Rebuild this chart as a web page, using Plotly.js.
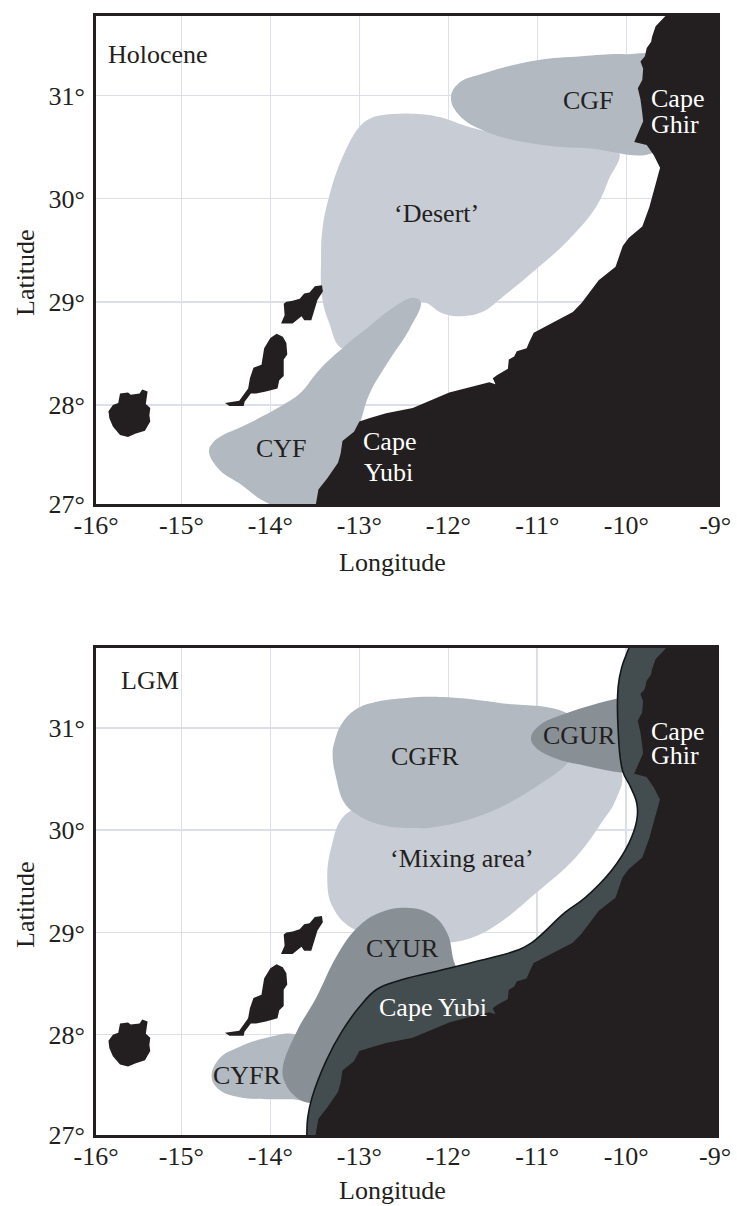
<!DOCTYPE html>
<html><head><meta charset="utf-8">
<script src="https://cdn.plot.ly/plotly-3.0.1.min.js"></script>
<style>html,body{margin:0;padding:0;background:#fff}</style></head>
<body><div id="chart" style="width:737px;height:1206px"></div>
<script>
// Longitude / latitude outlines
const coastLon=[-9.53,-9.56,-9.67,-9.71,-9.72,-9.77,-9.79,-9.84,-9.81,-9.82,-9.87,-9.84,-9.82,-9.81,-9.86,-9.91,-9.77,-9.69,-9.62,-9.68,-9.74,-9.82,-9.97,-10.04,-10.08,-10.12,-10.31,-10.46,-10.50,-10.60,-10.80,-11.04,-11.09,-11.12,-11.23,-11.26,-11.32,-11.33,-11.45,-11.50,-11.47,-11.54,-11.77,-11.99,-12.40,-12.70,-12.89,-13.00,-13.06,-13.19,-13.21,-13.24,-13.36,-13.46,-13.49,-13.50,-8.90,-8.90];
const coastLat=[31.90,31.77,31.67,31.57,31.52,31.46,31.38,31.33,31.26,31.15,31.07,30.96,30.83,30.75,30.65,30.55,30.52,30.42,30.30,30.12,29.92,29.73,29.62,29.54,29.44,29.34,29.21,29.04,28.99,28.90,28.81,28.70,28.61,28.55,28.52,28.47,28.44,28.35,28.29,28.26,28.20,28.22,28.17,28.12,27.97,27.92,27.87,27.84,27.74,27.65,27.53,27.44,27.29,27.18,27.03,26.90,26.90,31.90];
const granCanariaLon=[-15.69,-15.60,-15.57,-15.47,-15.44,-15.38,-15.40,-15.35,-15.36,-15.35,-15.41,-15.52,-15.60,-15.69,-15.77,-15.81,-15.82,-15.77,-15.71];
const granCanariaLat=[28.11,28.12,28.10,28.11,28.15,28.13,28.01,27.97,27.90,27.84,27.75,27.72,27.69,27.71,27.79,27.87,27.94,28.00,28.02];
const fuerteventuraLon=[-13.93,-13.86,-13.82,-13.81,-13.85,-13.85,-13.90,-13.92,-14.05,-14.16,-14.22,-14.29,-14.30,-14.46,-14.51,-14.42,-14.35,-14.25,-14.23,-14.19,-14.10,-14.07,-14.00];
const fuerteventuraLat=[28.69,28.66,28.60,28.49,28.44,28.28,28.24,28.16,28.13,28.11,28.11,28.03,27.99,27.99,28.02,28.03,28.04,28.16,28.26,28.36,28.39,28.55,28.65];
const lanzaroteLon=[-13.42,-13.41,-13.47,-13.50,-13.54,-13.62,-13.65,-13.75,-13.88,-13.84,-13.85,-13.82,-13.75,-13.67,-13.62,-13.56,-13.50];
const lanzaroteLat=[29.16,29.10,29.02,28.94,28.82,28.82,28.86,28.79,28.79,28.87,28.98,29.00,29.01,29.03,29.08,29.09,29.15];

const desertLon=[-12.63,-12.33,-12.10,-11.66,-10.09,-10.20,-10.34,-10.65,-11.02,-11.40,-11.62,-11.85,-12.07,-12.31,-12.78,-13.19,-13.34,-13.42,-13.43,-13.415,-13.34,-13.19,-13.00,-12.87,-12.63];
const desertLat=[30.82,30.82,30.79,30.67,30.47,30.18,29.92,29.60,29.31,29.04,28.90,28.86,28.89,29.00,28.73,28.55,28.80,29.05,29.41,29.70,30.02,30.40,30.695,30.78,30.82];
const cgfLon=[-11.97,-11.88,-11.58,-11.02,-10.50,-10.01,-9.64,-9.64,-10.46,-11.02,-11.58,-11.88,-11.97];
const cgfLat=[30.98,31.12,31.22,31.34,31.38,31.40,31.36,30.48,30.49,30.53,30.65,30.81,30.98];
const cyfLon=[-14.69,-14.64,-14.57,-14.27,-13.86,-13.67,-13.45,-13.15,-12.89,-12.66,-12.40,-12.31,-12.44,-12.66,-12.89,-12.98,-13.20,-13.40,-14.01,-14.35,-14.57,-14.69];
const cyfLat=[27.55,27.64,27.69,27.81,28.00,28.11,28.34,28.58,28.76,28.92,29.04,29.00,28.73,28.44,28.10,27.86,27.30,26.90,27.04,27.24,27.37,27.55];

const shelfLon=[-9.50,-9.93,-9.97,-10.05,-10.09,-10.09,-10.04,-9.95,-9.88,-9.88,-9.97,-10.16,-10.46,-10.68,-11.06,-11.21,-11.62,-12.18,-12.55,-12.81,-13.00,-13.19,-13.37,-13.53,-13.58,-13.59,-13.59,-9.50,-9.50];
const shelfLat=[31.90,31.90,31.78,31.59,31.40,30.98,30.58,30.42,30.26,30.10,29.87,29.61,29.34,29.20,28.90,28.83,28.73,28.61,28.53,28.44,28.27,28.04,27.75,27.39,27.19,27.01,26.90,26.90,31.90];
const mixingLon=[-10.05,-10.12,-10.28,-10.57,-11.02,-11.43,-11.73,-12.01,-12.55,-13.08,-13.30,-13.36,-13.31,-13.17,-12.89,-11.43,-10.31,-10.05];
const mixingLat=[30.56,30.29,30.07,29.73,29.38,29.09,28.95,28.90,28.92,29.04,29.25,29.51,29.85,30.14,30.24,30.58,30.83,30.56];
const cgfrLon=[-12.83,-12.50,-12.05,-11.40,-10.68,-10.42,-10.65,-11.02,-11.58,-12.14,-12.38,-12.75,-13.02,-13.17,-13.26,-13.30,-13.28,-13.19,-13.02,-12.83];
const cgfrLat=[31.25,31.29,31.30,31.24,31.15,30.93,30.66,30.42,30.16,30.03,30.02,30.05,30.15,30.27,30.51,30.73,30.86,31.05,31.19,31.25];
const cgurLon=[-11.07,-10.98,-10.68,-10.09,-9.86,-9.86,-10.03,-10.46,-10.79,-11.02,-11.07];
const cgurLat=[30.90,31.02,31.14,31.29,31.32,30.56,30.56,30.63,30.70,30.81,30.90];
const cyurLon=[-12.47,-12.18,-12.01,-11.92,-11.76,-13.11,-13.53,-13.71,-13.84,-13.86,-13.71,-13.48,-13.26,-13.03,-12.78,-12.47];
const cyurLat=[29.24,29.17,28.99,28.68,28.48,27.36,27.33,27.39,27.54,27.68,28.02,28.37,28.76,29.04,29.19,29.24];
const cyfrLon=[-14.66,-14.57,-14.35,-14.04,-13.71,-13.34,-13.60,-13.75,-14.04,-14.35,-14.57,-14.66];
const cyfrLat=[27.585,27.77,27.88,27.97,28.00,27.75,27.37,27.37,27.37,27.39,27.46,27.585];

// Ticks sit on the frame edge at the low ends, as they do in the picture
const lonTicks=[-15.96,-15,-14,-13,-12,-11,-10,-9];
const lonLabels=["-16°","-15°","-14°","-13°","-12°","-11°","-10°","-9°"];
const latTicksTop=[27.04,28,29,30,31];
const latTicksBottom=[27.02,28,29,30,31];
const latLabels=["27°","28°","29°","30°","31°"];

const topLabels=[["Holocene",-15.26,31.40,"#231f20"],["CGF",-10.42,30.95,"#231f20"],["Cape",-9.42,30.97,"#fff"],["Ghir",-9.455,30.72,"#fff"],["‘Desert’",-12.13,29.86,"#231f20"],["CYF",-13.875,27.575,"#231f20"],["Cape",-12.66,27.65,"#fff"],["Yubi",-12.675,27.35,"#fff"]];
const bottomLabels=[["LGM",-15.35,31.46,"#231f20"],["CGFR",-12.26,30.72,"#231f20"],["CGUR",-10.53,30.92,"#231f20"],["Cape",-9.42,30.96,"#fff"],["Ghir",-9.455,30.73,"#fff"],["‘Mixing area’",-11.845,29.725,"#231f20"],["CYUR",-12.52,28.84,"#231f20"],["Cape Yubi",-12.17,28.27,"#fff"],["CYFR",-14.26,27.605,"#231f20"]];

const W=737,H=1206,FONT="Liberation Serif",FS=26,INK="#231f20";
const LIGHT="#c8ccd4",MID="#b2b9c1",DARK="#889096",SHELF="#434c4e";

function area(x,y,color,n,smooth,outline){
  const sh=smooth?{shape:"spline",smoothing:1.15}:{shape:"linear"};
  return {type:"scatter",mode:"lines",x:x,y:y,xaxis:"x"+n,yaxis:"y"+n,fill:"toself",fillcolor:color,
    line:Object.assign(outline?{color:outline,width:1.6}:{color:"rgba(0,0,0,0)",width:0},sh),
    hoverinfo:"skip",showlegend:false};
}
function land(n){return [
  area(coastLon,coastLat,INK,n,false),
  area(granCanariaLon,granCanariaLat,INK,n,false),
  area(fuerteventuraLon,fuerteventuraLat,INK,n,false),
  area(lanzaroteLon,lanzaroteLat,INK,n,false)];}

const traces=[
  area(desertLon,desertLat,LIGHT,"",true),
  area(cgfLon,cgfLat,MID,"",true),
  area(cyfLon,cyfLat,MID,"",true),
  ...land(""),
  area(mixingLon,mixingLat,LIGHT,"2",true),
  area(cgfrLon,cgfrLat,MID,"2",true),
  area(cyfrLon,cyfrLat,MID,"2",true),
  area(cyurLon,cyurLat,DARK,"2",true),
  area(cgurLon,cgurLat,DARK,"2",true),
  area(shelfLon,shelfLat,SHELF,"2",true,"#14181a"),
  ...land("2")
];

function xAxis(right,lo,hi,anchor){return {domain:[96/W,right/W],range:[lo,hi],anchor:anchor,
  tickmode:"array",tickvals:lonTicks,ticktext:lonLabels,tickangle:0,ticks:"",ticklabelstandoff:-4,
  showgrid:true,gridcolor:"#dcdfe8",gridwidth:1.5,zeroline:false,showline:true,mirror:true,linecolor:INK,linewidth:3,
  tickfont:{family:FONT,size:FS,color:INK}};}
function yAxis(top,bottom,lo,hi,ticks,anchor){return {domain:[1-bottom/H,1-top/H],range:[lo,hi],anchor:anchor,
  tickmode:"array",tickvals:ticks,ticktext:latLabels,ticks:"outside",ticklen:3,tickcolor:"rgba(0,0,0,0)",
  showgrid:true,gridcolor:"#dcdfe8",gridwidth:1.5,zeroline:false,showline:true,mirror:true,linecolor:INK,linewidth:3,
  tickfont:{family:FONT,size:FS,color:INK}};}
function note(rows,n){return rows.map(r=>({text:r[0],x:r[1],y:r[2],xref:"x"+n,yref:"y"+n,showarrow:false,
  xanchor:"center",yanchor:"middle",font:{family:FONT,size:FS,color:r[3]}}));}
function paperText(text,px,py,angle){return {text:text,x:px/W,y:1-py/H,xref:"paper",yref:"paper",showarrow:false,textangle:angle,
  xanchor:"center",yanchor:"middle",font:{family:FONT,size:FS,color:INK}};}

const layout={width:W,height:H,margin:{l:0,r:0,t:0,b:0},paper_bgcolor:"#fff",plot_bgcolor:"#fff",showlegend:false,
  xaxis:xAxis(717,-15.96,-8.98,"y"),
  yaxis:yAxis(15.5,504,27.04,31.775,latTicksTop,"x"),
  xaxis2:xAxis(716,-15.96,-8.99,"y2"),
  yaxis2:yAxis(648,1135,27.02,31.78,latTicksBottom,"x2"),
  annotations:[...note(topLabels,""),...note(bottomLabels,"2"),
    paperText("Longitude",392,563,0),paperText("Latitude",25,273,-90),
    paperText("Longitude",392,1190,0),paperText("Latitude",25,905,-90)]
};
Plotly.newPlot("chart",traces,layout,{staticPlot:true,displayModeBar:false});
</script></body></html>
